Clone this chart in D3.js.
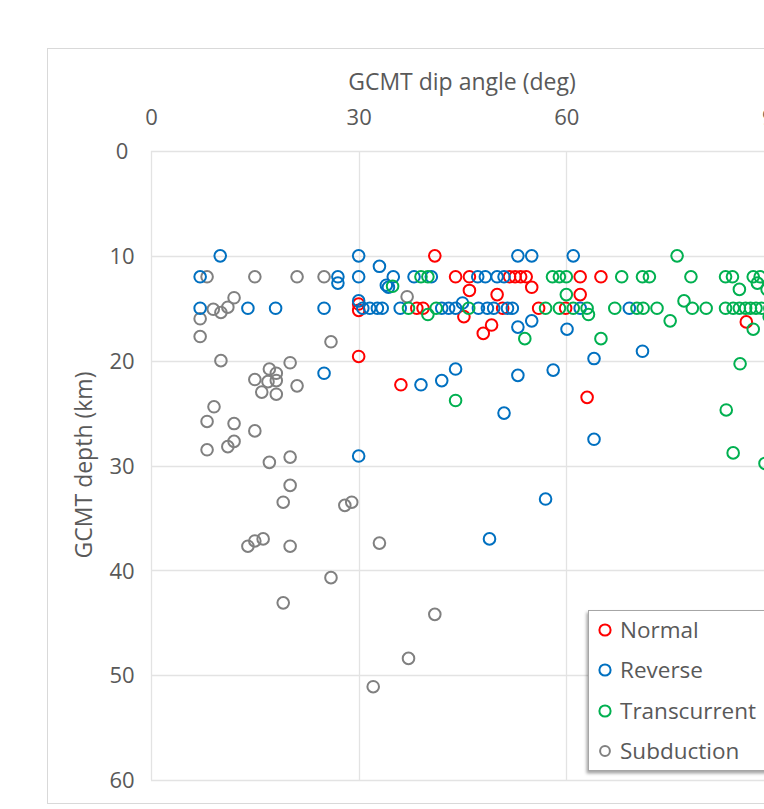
<!DOCTYPE html>
<html><head><meta charset="utf-8">
<script src="https://cdn.jsdelivr.net/npm/d3@7"></script>
<style>body{margin:0;background:#fff;} svg{display:block;}</style>
</head><body><div id="chart"></div>
<script>
// Data: [dip angle (deg), depth (km)]
const normal = [[41,10],[44,12],[46,12],[51.8,12],[52.6,12],[53.4,12],[54.2,12],[62,12],[65,12],
 [46,13.3],[55,13],[50,13.7],[62,13.7],[30,14.6],[30,15.2],[38.4,15],[39.3,15],[45.2,15.8],[50.8,15],
 [56,15],[59.9,15],[48,17.4],[49.2,16.6],[30,19.6],[36.1,22.3],[63,23.5],[86,16.3]];
const reverse = [[10,10],[30,10],[53,10],[55,10],[61,10],[33,11],[7.1,12],[27,12],[27,12.6],[30,12],
 [35,12],[34,12.8],[34.3,13],[38,12],[40.5,12],[47.2,12],[48.3,12],[50,12],[51,12],
 [7.1,15],[14,15],[18,15],[25,15],[30,14.3],[30.6,15],[31.6,15],[32.7,15],[33.4,15],[36,15],
 [42,15],[43,15],[44,15],[45,14.5],[47.3,15],[48.6,15],[49.5,15],[51.5,15],[52.2,15],[62,15],[69.1,15],
 [53,16.8],[55,16.2],[60.1,17],[64,19.8],[71,19.1],[58.1,20.9],[53,21.4],[44,20.8],[42,21.9],[39,22.3],
 [25,21.2],[51,25],[64,27.5],[30,29.1],[57,33.2],[48.9,37]];
const transcurrent = [[76,10],[39,12],[40,12],[58,12],[59,12],[60,12],[68,12],[71,12],[72,12],[78,12],
 [83,12],[84,12],[87,12],[88,12],[89.6,12],[34.9,12.9],[60,13.7],[85,13.2],[77,14.3],[87.6,12.6],[89,13.2],
 [37.2,15],[41.2,15],[45.9,15],[57,15],[59,15],[61,15],[63,15],[67,15],[70.2,15],[71.1,15],[73.1,15],
 [78.2,15],[80.2,15],[83,15],[84.1,15],[85,15],[85.9,15],[86.6,15],[87.4,15],[88.2,15],[89.4,15],
 [40,15.6],[63.2,15.6],[75,16.2],[87,17],[89.3,15.8],[54,17.9],[65,17.9],[85.1,20.3],[44,23.8],
 [83.1,24.7],[84.1,28.8],[88.7,29.8]];
const subduction = [[8.1,12],[15,12],[21.1,12],[25,12],[12,14],[11.1,14.9],[9,15.1],[10.1,15.4],[7.1,16],
 [7.1,17.7],[26,18.2],[37,13.9],[10.1,20],[20.1,20.2],[17.1,20.8],[18.1,21.2],[15,21.8],[16.9,22],
 [18.1,21.9],[21.1,22.4],[16,23],[18.1,23.2],[9.1,24.4],[8.1,25.8],[12,26],[15,26.7],[12,27.7],
 [11.1,28.2],[8.1,28.5],[17.1,29.7],[20.1,29.2],[20.1,31.9],[19.1,33.5],[28,33.8],[29,33.5],[14,37.7],
 [15,37.2],[16.2,37],[20.1,37.7],[33,37.4],[26,40.7],[19.1,43.1],[41,44.2],[37.2,48.4],[32.1,51.1]];
const seriesNames = ["Normal","Reverse","Transcurrent","Subduction"];
const seriesColors = ["#ff0000","#0070c0","#00b050","#808080"];
const xTicks = [0,30,60,90];
const yTicks = [0,10,20,30,40,50,60];

const W = 764, H = 809;
const svg = d3.select("#chart").append("svg").attr("width",W).attr("height",H);
const font = "'Open Sans', sans-serif";
const textCol = "#595959";

// outer chart border
svg.append("rect").attr("x",47.5).attr("y",48.5).attr("width",760).attr("height",755)
  .attr("fill","#fff").attr("stroke","#d9d9d9");

const x = d3.scaleLinear().domain([0,90]).range([151,774]);
const y = d3.scaleLinear().domain([0,60]).range([151,780]);

// gridlines
const g = svg.append("g");
g.selectAll(".hg").data(yTicks).join("line")
  .attr("x1",x(0)).attr("x2",x(90)).attr("y1",d=>Math.round(y(d))+0.5).attr("y2",d=>Math.round(y(d))+0.5)
  .attr("stroke","#e3e3e3").attr("stroke-width",1.3);
g.selectAll(".vg").data(xTicks).join("line")
  .attr("y1",y(0)).attr("y2",y(60)).attr("x1",d=>Math.round(x(d))+0.5).attr("x2",d=>Math.round(x(d))+0.5)
  .attr("stroke","#e3e3e3").attr("stroke-width",1.3);

// axes (labels only)
const xAxis = d3.axisTop(x).tickValues(xTicks).tickSize(0).tickPadding(0);
const xg = svg.append("g").attr("transform","translate(0,125)").call(xAxis);
xg.select(".domain").remove();
xg.selectAll("text").attr("font-family",font).attr("font-size",22).attr("fill",textCol);

const yAxis = d3.axisLeft(y).tickValues(yTicks).tickSize(0).tickPadding(0);
const yg = svg.append("g").attr("transform","translate(122,0)").call(yAxis);
yg.select(".domain").remove();
yg.selectAll("text").attr("font-family",font).attr("font-size",22).attr("fill",textCol)
  .attr("dy","0.35em").attr("text-anchor","middle");

svg.append("text").attr("x",462).attr("y",90).attr("text-anchor","middle")
  .attr("font-family",font).attr("font-size",23).attr("fill",textCol).text("GCMT dip angle (deg)");
svg.append("text").attr("transform","translate(92,465) rotate(-90)").attr("text-anchor","middle")
  .attr("font-family",font).attr("font-size",23).attr("fill",textCol).text("GCMT depth (km)");

// points
const all = [normal, reverse, transcurrent, subduction];
const order = [3,0,1,2];
order.forEach(i=>{
  svg.append("g").selectAll("circle").data(all[i]).join("circle")
    .attr("cx",d=>x(d[0])).attr("cy",d=>y(d[1])).attr("r",5.8)
    .attr("fill","none").attr("stroke",seriesColors[i]).attr("stroke-width",2);
});

// legend
const defs = svg.append("defs");
const f = defs.append("filter").attr("id","sh").attr("x","-10%").attr("y","-10%").attr("width","130%").attr("height","130%");
f.append("feDropShadow").attr("dx",-1.5).attr("dy",2.5).attr("stdDeviation",1.8).attr("flood-color","#000").attr("flood-opacity",0.35);
const lg = svg.append("g");
lg.append("rect").attr("x",588.5).attr("y",610.5).attr("width",190).attr("height",160)
  .attr("fill","#fff").attr("stroke","#a6a6a6").attr("filter","url(#sh)");
const ly = [630,670,711,751];
seriesNames.forEach((n,i)=>{
  lg.append("circle").attr("cx",605).attr("cy",ly[i]).attr("r",i===3?4.9:5.6)
    .attr("fill","none").attr("stroke",seriesColors[i]).attr("stroke-width",2);
  lg.append("text").attr("x",620).attr("y",ly[i]).attr("dy","0.35em")
    .attr("font-family",font).attr("font-size",22.5).attr("fill",textCol).text(n);
});
</script></body></html>
